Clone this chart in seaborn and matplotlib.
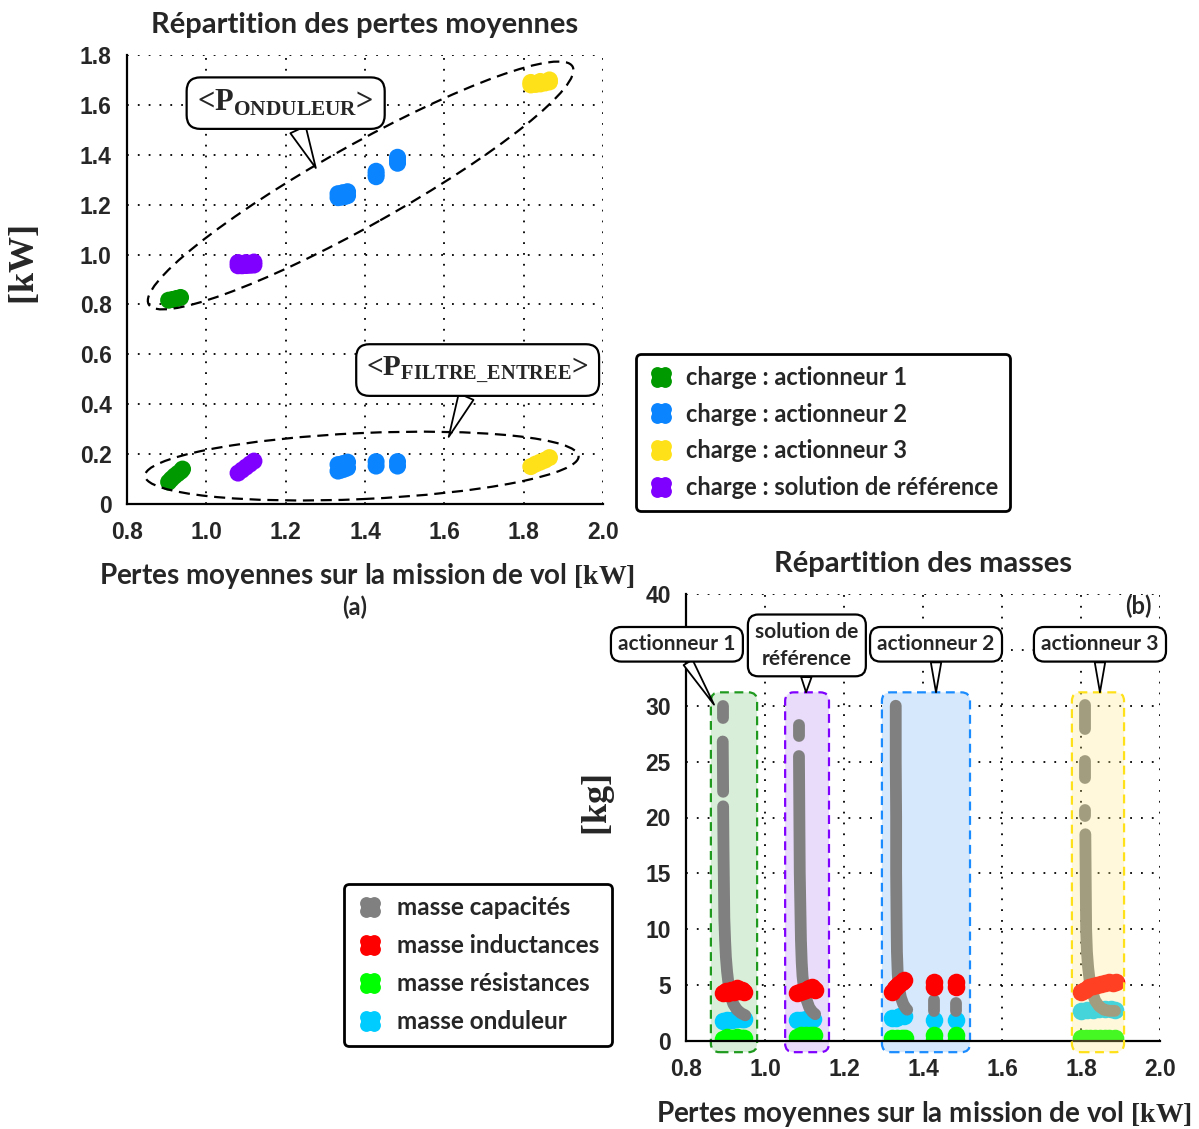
import numpy as np
import pandas as pd
import matplotlib
matplotlib.use('Agg')
import matplotlib.pyplot as plt
import seaborn as sns
from matplotlib.patches import Ellipse, FancyBboxPatch
from matplotlib.lines import Line2D
from matplotlib.path import Path
from matplotlib.transforms import Affine2D, IdentityTransform

# ==========================================
# Données
# ==========================================

# (a) pertes onduleur (amas du haut)
ond_act1_x = [0.905, 0.915, 0.925, 0.935]
ond_act1_y = [0.817, 0.820, 0.824, 0.828]
ond_act2_x = [1.332, 1.340, 1.348, 1.356, 1.332, 1.344, 1.356, 1.428, 1.428, 1.428, 1.482, 1.482, 1.482]
ond_act2_y = [1.228, 1.230, 1.232, 1.236, 1.244, 1.248, 1.252, 1.312, 1.322, 1.334, 1.366, 1.377, 1.390]
ond_act3_x = [1.818, 1.830, 1.842, 1.854, 1.865, 1.818, 1.842, 1.865]
ond_act3_y = [1.680, 1.682, 1.684, 1.688, 1.692, 1.690, 1.694, 1.700]
ond_ref_x = [1.080, 1.090, 1.100, 1.110, 1.120, 1.080, 1.100, 1.120]
ond_ref_y = [0.955, 0.955, 0.956, 0.957, 0.958, 0.968, 0.968, 0.970]

# (a) pertes filtre d'entrée (amas du bas)
fil_act1_x = [0.905, 0.912, 0.920, 0.928, 0.936, 0.940]
fil_act1_y = [0.088, 0.100, 0.112, 0.122, 0.132, 0.140]
fil_act2_x = [1.332, 1.340, 1.348, 1.356, 1.332, 1.344, 1.356, 1.428, 1.428, 1.482, 1.482]
fil_act2_y = [0.132, 0.136, 0.140, 0.145, 0.158, 0.162, 0.168, 0.152, 0.170, 0.152, 0.170]
fil_act3_x = [1.818, 1.830, 1.842, 1.854, 1.865]
fil_act3_y = [0.150, 0.160, 0.168, 0.176, 0.186]
fil_ref_x = [1.080, 1.090, 1.100, 1.110, 1.120]
fil_ref_y = [0.124, 0.136, 0.148, 0.160, 0.172]

charges = ['charge : actionneur 1', 'charge : actionneur 2',
           'charge : actionneur 3', 'charge : solution de référence']
charge_colors = ['#009900', '#0a84ff', '#ffe11a', '#8000ff']

# (b) masse capacités (courbes, segments séparés par des trous)
capa_act1_x = [0.893, 0.893, 0.893, 0.894, 0.894, 0.895, 0.896, 0.897, 0.899, 0.901, 0.904, 0.908, 0.913, 0.920, 0.929, 0.939, 0.950]
capa_act1_y = [30.0, 28.9, 26.8, 22.3, 21.0, 17.0, 14.0, 11.0, 9.0, 7.5, 6.2, 5.0, 4.0, 3.3, 2.8, 2.5, 2.3]
capa_act1_seg = [0, 0, 1, 1, 2, 2, 2, 2, 2, 2, 2, 2, 2, 2, 2, 2, 2]

capa_ref_x = [1.085, 1.085, 1.086, 1.087, 1.088, 1.090, 1.091, 1.093, 1.095, 1.099, 1.105, 1.112, 1.120, 1.127]
capa_ref_y = [28.3, 27.3, 25.5, 20.0, 15.0, 11.0, 9.0, 7.0, 5.8, 4.6, 3.7, 3.0, 2.6, 2.4]
capa_ref_seg = [0, 0, 1, 1, 1, 1, 1, 1, 1, 1, 1, 1, 1, 1]

capa_act2_x = [1.331, 1.331, 1.332, 1.332, 1.333, 1.334, 1.336, 1.339, 1.344, 1.350, 1.357, 1.360, 1.428, 1.428, 1.483, 1.483]
capa_act2_y = [30.0, 25.0, 20.0, 15.0, 11.0, 8.0, 6.0, 4.8, 3.9, 3.3, 2.9, 2.8, 3.7, 2.7, 3.4, 2.7]
capa_act2_seg = [0, 0, 0, 0, 0, 0, 0, 0, 0, 0, 0, 0, 1, 1, 2, 2]

capa_act3_x = [1.811, 1.811, 1.811, 1.811, 1.811, 1.811, 1.811, 1.812, 1.813, 1.815, 1.818, 1.822, 1.828, 1.836, 1.846, 1.858, 1.872, 1.886]
capa_act3_y = [30.1, 27.9, 25.1, 23.5, 20.7, 20.1, 18.5, 14.0, 10.0, 8.0, 6.6, 5.4, 4.4, 3.6, 3.1, 2.8, 2.7, 2.7]
capa_act3_seg = [0, 0, 1, 1, 2, 2, 3, 3, 3, 3, 3, 3, 3, 3, 3, 3, 3, 3]

# (b) masse inductances
ind_act1_x = [0.893, 0.900, 0.907, 0.914, 0.921, 0.928, 0.935, 0.942, 0.948]
ind_act1_y = [4.3, 4.5, 4.3, 4.6, 4.4, 4.7, 4.5, 4.6, 4.4]
ind_ref_x = [1.080, 1.088, 1.096, 1.104, 1.112, 1.120, 1.126]
ind_ref_y = [4.3, 4.4, 4.5, 4.6, 4.7, 4.8, 4.6]
ind_act2_x = [1.322, 1.328, 1.334, 1.340, 1.346, 1.352, 1.428, 1.428, 1.483, 1.483]
ind_act2_y = [4.4, 4.7, 4.9, 5.1, 5.3, 5.5, 4.8, 5.3, 4.8, 5.3]
ind_act3_x = [1.800, 1.810, 1.820, 1.830, 1.840, 1.850, 1.860, 1.870, 1.880, 1.888]
ind_act3_y = [4.4, 4.6, 4.8, 4.9, 5.0, 5.1, 5.2, 5.3, 5.2, 5.3]

# (b) masse onduleur
mond_act1_x = [0.893, 0.905, 0.917, 0.929, 0.941, 0.948]
mond_act1_y = [1.8, 1.9, 1.9, 2.0, 2.0, 2.0]
mond_ref_x = [1.080, 1.092, 1.104, 1.116, 1.122]
mond_ref_y = [1.9, 1.9, 2.0, 2.0, 2.0]
mond_act2_x = [1.322, 1.332, 1.342, 1.352, 1.428, 1.483]
mond_act2_y = [2.1, 2.1, 2.2, 2.2, 1.9, 1.9]
mond_act3_x = [1.800, 1.815, 1.830, 1.845, 1.860, 1.875, 1.886]
mond_act3_y = [2.7, 2.8, 2.8, 2.9, 2.9, 2.9, 2.8]

# (b) masse résistances
res_act1_x = [0.893, 0.905, 0.917, 0.929, 0.941, 0.948]
res_act1_y = [0.2, 0.4, 0.3, 0.4, 0.3, 0.3]
res_ref_x = [1.080, 1.092, 1.104, 1.116, 1.124]
res_ref_y = [0.4, 0.5, 0.5, 0.5, 0.5]
res_act2_x = [1.322, 1.334, 1.346, 1.355, 1.428, 1.428, 1.483, 1.483]
res_act2_y = [0.3, 0.3, 0.3, 0.3, 0.1, 0.5, 0.1, 0.5]
res_act3_x = [1.800, 1.812, 1.824, 1.836, 1.848, 1.860, 1.872, 1.886]
res_act3_y = [0.3, 0.3, 0.3, 0.3, 0.3, 0.3, 0.3, 0.3]

masses = ['masse capacités', 'masse inductances', 'masse résistances', 'masse onduleur']
mass_colors = ['#808080', '#ff0000', '#00ff00', '#00ccff']

# zones (b) : x min, x max, couleur fond, couleur bord
zones_x0 = [0.863, 1.051, 1.296, 1.777]
zones_x1 = [0.980, 1.162, 1.519, 1.909]
zones_face = ['#d9eed9', '#e9dcfb', '#d6e8fb', (1.0, 0.914, 0.5, 0.28)]
zones_edge = ['#1f9a1f', '#8000ff', '#1a8cff', '#ffe11a']

# ==========================================
# Style
# ==========================================
sns.set_theme(style='white')
plt.rcParams['font.family'] = ['Lato', 'DejaVu Sans']
plt.rcParams['font.weight'] = 'bold'
plt.rcParams['mathtext.fontset'] = 'custom'
plt.rcParams['mathtext.rm'] = 'Liberation Serif:bold'
plt.rcParams['mathtext.bf'] = 'Liberation Serif:bold'

W, H = 1199, 1129
fig = plt.figure(figsize=(W / 100, H / 100), dpi=100)
fig.patch.set_facecolor('white')

ax1 = fig.add_axes([127 / W, 1 - 504 / H, 476 / W, 449 / H])
ax2 = fig.add_axes([686 / W, 1 - 1041 / H, 474 / W, 447 / H])


def style_axes(ax, yticks, ylabels):
    ax.set_xlim(0.8, 2.0)
    ax.set_ylim(yticks[0], yticks[-1])
    ax.set_xticks([0.8, 1.0, 1.2, 1.4, 1.6, 1.8, 2.0])
    ax.set_xticklabels(['0.8', '1.0', '1.2', '1.4', '1.6', '1.8', '2.0'],
                       family='Liberation Sans', fontsize=16.5, fontweight='bold')
    ax.set_yticks(yticks)
    ax.set_yticklabels(ylabels, family='Liberation Sans', fontsize=16.5, fontweight='bold')
    ax.tick_params(axis='x', pad=12, direction='in', length=4, width=1.2, color='black')
    ax.tick_params(axis='y', pad=11, direction='in', length=4, width=1.2, color='black')
    ax.grid(True, color='black', linestyle=(0, (1, 5)), linewidth=1.3)
    ax.set_axisbelow(True)
    for s in ['top', 'right']:
        ax.spines[s].set_visible(False)
    for s in ['left', 'bottom']:
        ax.spines[s].set_color('black')
        ax.spines[s].set_linewidth(1.6)
    ax.set_facecolor('white')


style_axes(ax1, [0, 0.2, 0.4, 0.6, 0.8, 1.0, 1.2, 1.4, 1.6, 1.8],
           ['0', '0.2', '0.4', '0.6', '0.8', '1.0', '1.2', '1.4', '1.6', '1.8'])
style_axes(ax2, [0, 5, 10, 15, 20, 25, 30, 35, 40],
           ['0', '5', '10', '15', '20', '25', '30', '', '40'])

# ==========================================
# (a) Répartition des pertes moyennes
# ==========================================
rows = []
for name, xs, ys in [(charges[0], ond_act1_x + fil_act1_x, ond_act1_y + fil_act1_y),
                     (charges[1], ond_act2_x + fil_act2_x, ond_act2_y + fil_act2_y),
                     (charges[2], ond_act3_x + fil_act3_x, ond_act3_y + fil_act3_y),
                     (charges[3], ond_ref_x + fil_ref_x, ond_ref_y + fil_ref_y)]:
    for x, y in zip(xs, ys):
        rows.append({'pertes': x, 'kw': y, 'charge': name})
df_a = pd.DataFrame(rows)

sns.scatterplot(data=df_a, x='pertes', y='kw', hue='charge',
                palette=dict(zip(charges, charge_colors)), s=150,
                linewidth=0, legend=False, ax=ax1, zorder=3)

ax1.set_title('Répartition des pertes moyennes', fontsize=21, fontweight='bold', pad=16)
ax1.set_xlabel(r'Pertes moyennes sur la mission de vol $\mathrm{[kW]}$', fontsize=20, fontweight='bold')
ax1.xaxis.set_label_coords(0.504, -0.128)
ax1.set_ylabel(r'$\mathrm{[kW]}$', fontsize=26)
ax1.yaxis.set_label_coords(-0.18, 0.532)

fig.canvas.draw()


def add_ellipse(ax, xc, yc, a_px, b_px, angle):
    px, py = ax.transData.transform((xc, yc))
    e = Ellipse((px, py), 2 * a_px, 2 * b_px, angle=angle, transform=IdentityTransform(),
                fill=False, ec='black', lw=1.6, ls=(0, (5, 3)), zorder=4, clip_on=False)
    ax.add_artist(e)


add_ellipse(ax1, 1.389, 1.277, 243, 40, 29.3)
add_ellipse(ax1, 1.392, 0.152, 217, 33, 2.6)

callout_box = dict(boxstyle='round,pad=0.35,rounding_size=0.45', fc='white', ec='black', lw=1.6)
callout_arrow = dict(arrowstyle='wedge,tail_width=0.55,shrink_factor=0.5', fc='white', ec='black',
                     lw=1.3, shrinkA=0, shrinkB=0)

ax1.annotate(r'<P$_{\mathrm{ONDULEUR}}$>', xy=(1.276, 1.347), xytext=(1.20, 1.607),
             ha='center', va='center', fontsize=22, family='Liberation Serif', fontweight='bold',
             bbox=callout_box, arrowprops=callout_arrow, zorder=6)
ax1.annotate(r'<P$_{\mathrm{FILTRE\_ENTREE}}$>', xy=(1.611, 0.269), xytext=(1.684, 0.537),
             ha='center', va='center', fontsize=21, family='Liberation Serif', fontweight='bold',
             bbox=callout_box, arrowprops=callout_arrow, zorder=6)

# marqueur de légende en "trèfle" (4 disques)
circ = Path.unit_circle()
clover = Path.make_compound_path(*[circ.transformed(Affine2D().scale(0.62).translate(dx, dy))
                                   for dx in (-0.38, 0.38) for dy in (-0.38, 0.38)])

handles_a = [Line2D([], [], ls='none', marker=clover, ms=15, mfc=c, mec='none') for c in charge_colors]
leg_a = fig.legend(handles_a, charges, loc='upper left', bbox_to_anchor=(636 / W, 1 - 354 / H),
                   frameon=True, fancybox=True, framealpha=1, edgecolor='black',
                   prop={'family': ['Lato'], 'weight': 'bold', 'size': 17},
                   labelspacing=0.58, handletextpad=0.5, handlelength=1.1, borderpad=0.5,
                   borderaxespad=0)
leg_a.get_frame().set_linewidth(2)

fig.text(355 / W, 1 - 607 / H, '(a)', ha='center', va='center', fontsize=17, fontweight='bold')

# ==========================================
# (b) Répartition des masses
# ==========================================
for x0, x1, fc, ec in zip(zones_x0, zones_x1, zones_face, zones_edge):
    on_top = ec == '#ffe11a'
    box = FancyBboxPatch((x0, -1.0), x1 - x0, 32.2,
                         boxstyle='round,pad=0,rounding_size=0.022', mutation_aspect=35,
                         fc=fc, ec=ec, lw=1.6, ls=(0, (4, 2.5)),
                         zorder=5 if on_top else 1, clip_on=False)
    ax2.add_patch(box)

blob_sets = [
    (masses[3], mond_act1_x + mond_ref_x + mond_act2_x + mond_act3_x,
     mond_act1_y + mond_ref_y + mond_act2_y + mond_act3_y, 2),
    (masses[2], res_act1_x + res_ref_x + res_act2_x + res_act3_x,
     res_act1_y + res_ref_y + res_act2_y + res_act3_y, 2),
]
for name, xs, ys, z in blob_sets:
    sns.scatterplot(x=xs, y=ys, color=mass_colors[masses.index(name)], s=160, linewidth=0,
                    legend=False, ax=ax2, zorder=z)

capa_rows = []
for i, (xs, ys, seg) in enumerate([(capa_act1_x, capa_act1_y, capa_act1_seg),
                                    (capa_ref_x, capa_ref_y, capa_ref_seg),
                                    (capa_act2_x, capa_act2_y, capa_act2_seg),
                                    (capa_act3_x, capa_act3_y, capa_act3_seg)]):
    for x, y, s in zip(xs, ys, seg):
        capa_rows.append({'x': x, 'y': y, 'seg': f'{i}-{s}'})
df_capa = pd.DataFrame(capa_rows)
sns.lineplot(data=df_capa, x='x', y='y', units='seg', estimator=None, sort=False,
             color=mass_colors[0], linewidth=8.5, solid_capstyle='round', ax=ax2, zorder=3)

sns.scatterplot(x=ind_act1_x + ind_ref_x + ind_act2_x + ind_act3_x,
                y=ind_act1_y + ind_ref_y + ind_act2_y + ind_act3_y,
                color=mass_colors[1], s=160, linewidth=0, legend=False, ax=ax2, zorder=4)

ax2.set_title('Répartition des masses', fontsize=21, fontweight='bold', pad=16)
ax2.set_xlabel(r'Pertes moyennes sur la mission de vol $\mathrm{[kW]}$', fontsize=20, fontweight='bold')
ax2.xaxis.set_label_coords(0.502, -0.13)
ax2.set_ylabel(r'$\mathrm{[kg]}$', fontsize=26)
ax2.yaxis.set_label_coords(-0.146, 0.528)
ax2.text(0.955, 0.972, '(b)', transform=ax2.transAxes, ha='center', va='center',
         fontsize=17, fontweight='bold')

callout_box2 = dict(boxstyle='round,pad=0.35,rounding_size=0.5', fc='white', ec='black', lw=1.6)
callout_arrow2 = dict(arrowstyle='wedge,tail_width=0.5,shrink_factor=0.5', fc='white', ec='black',
                      lw=1.3, shrinkA=0, shrinkB=0)
for txt, xy, xyt in [('actionneur 1', (0.871, 30.1), (0.777, 35.5)),
                     ('solution de\nréférence', (1.104, 31.2), (1.106, 35.4)),
                     ('actionneur 2', (1.433, 31.2), (1.433, 35.5)),
                     ('actionneur 3', (1.848, 31.2), (1.848, 35.5))]:
    ax2.annotate(txt, xy=xy, xytext=xyt, ha='center', va='center', fontsize=15,
                 fontweight='bold', bbox=callout_box2, arrowprops=callout_arrow2,
                 annotation_clip=False, zorder=7, linespacing=1.45)

handles_b = [Line2D([], [], ls='none', marker=clover, ms=15, mfc=c, mec='none') for c in mass_colors]
leg_b = fig.legend(handles_b, masses, loc='upper left', bbox_to_anchor=(344 / W, 1 - 884 / H),
                   frameon=True, fancybox=True, framealpha=1, edgecolor='black',
                   prop={'family': ['Lato'], 'weight': 'bold', 'size': 17.5},
                   labelspacing=0.62, handletextpad=0.6, handlelength=1.1, borderpad=0.5,
                   borderaxespad=0)
leg_b.get_frame().set_linewidth(2)

fig.savefig('out.png', dpi=100, facecolor='white')
